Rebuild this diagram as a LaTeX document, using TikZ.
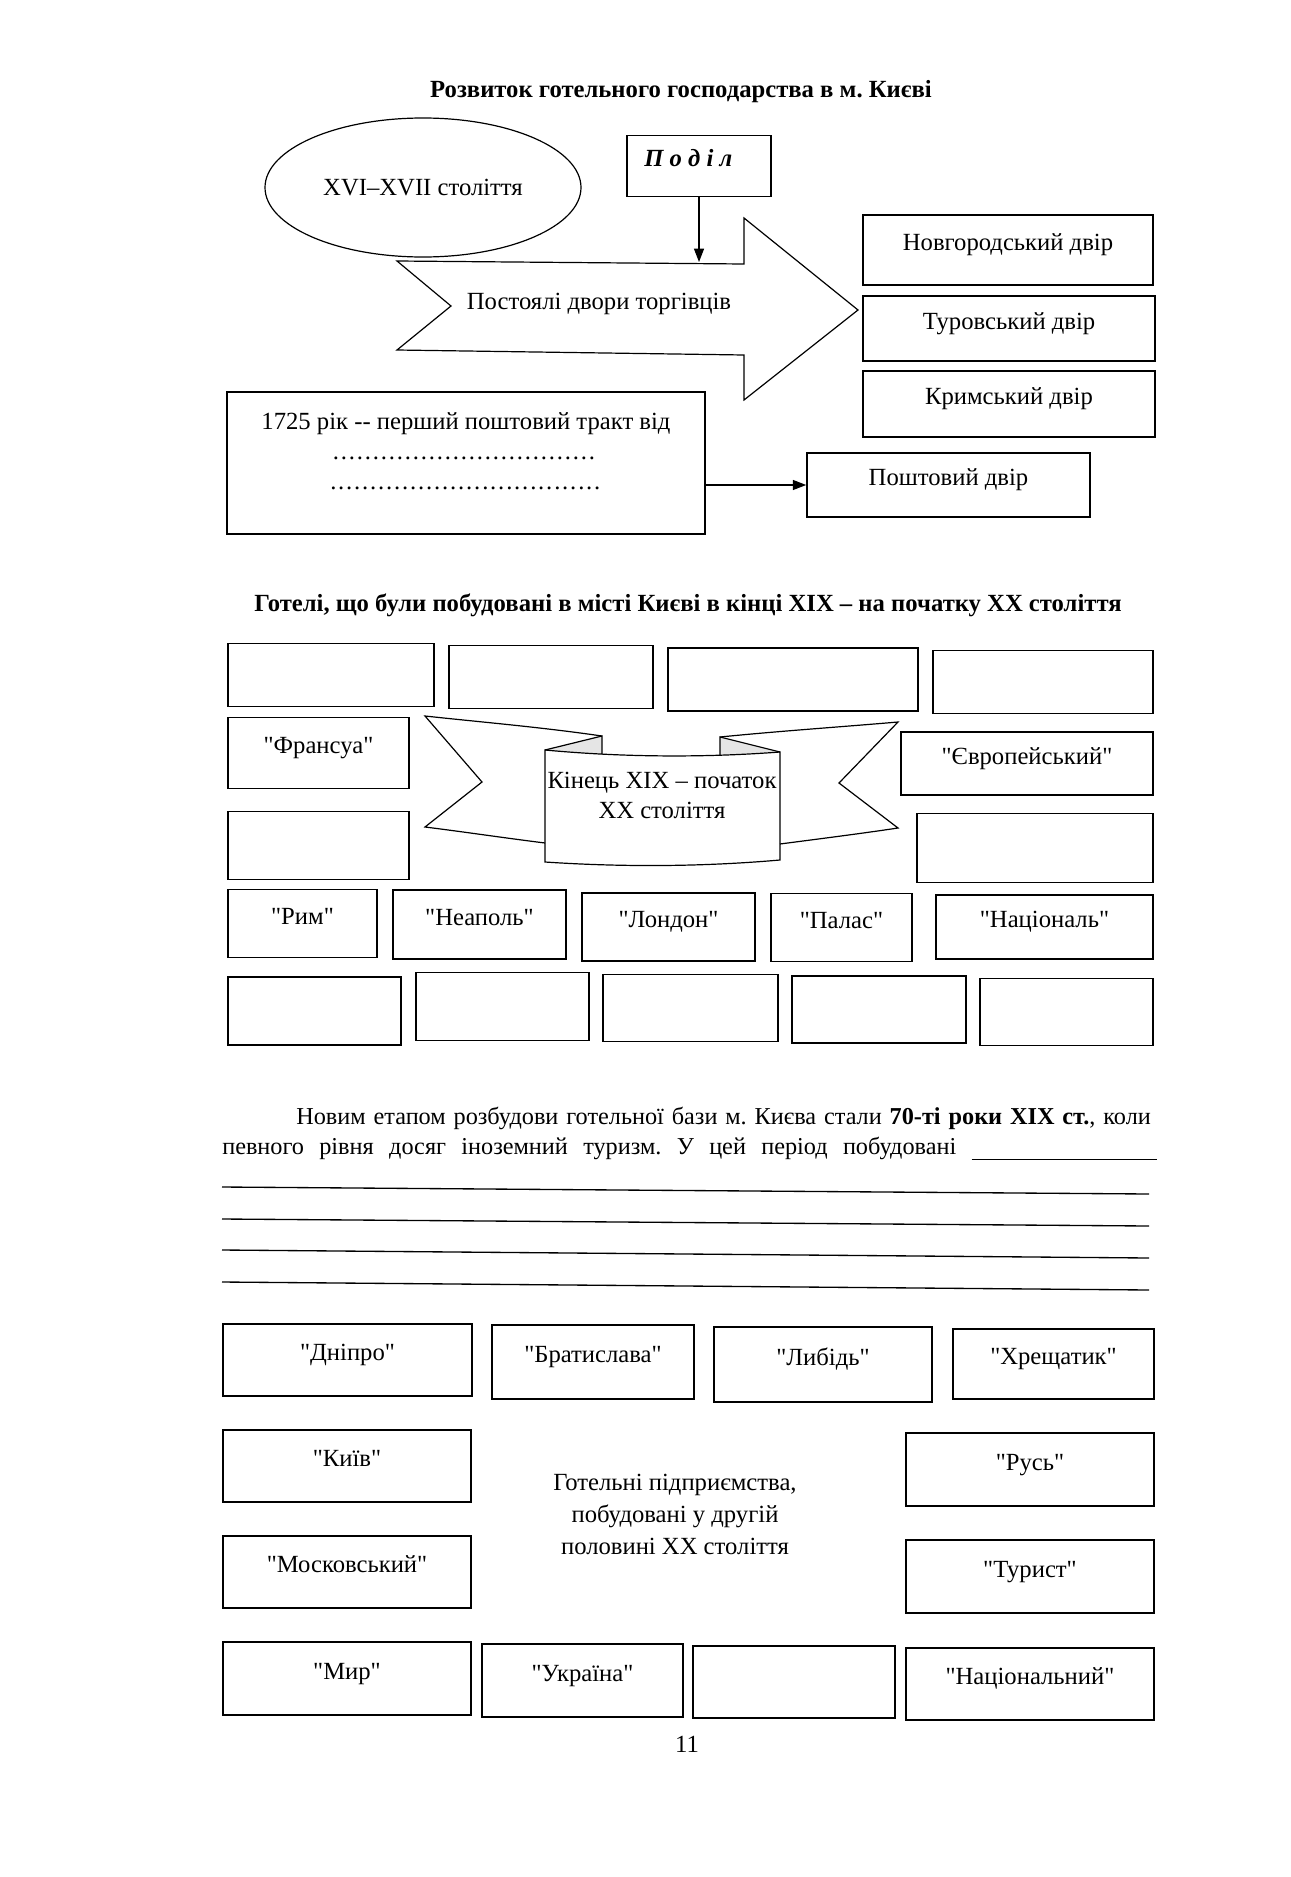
\documentclass[tikz,border=0pt]{standalone}
\usepackage{fontspec}
\setmainfont{Liberation Serif}
\newfontfamily\qfont{Liberation Serif}
\usetikzlibrary{shapes.geometric,arrows.meta}
\newcommand{\txtsize}{\fontsize{18.5pt}{22.5pt}\selectfont}
\newcommand{\dotline}[1]{\makebox[#1]{\leaders\hbox to 6pt{\hss.\hss}\hfill}}
\newcommand{\q}[1]{{\qfont"}#1{\qfont"}}
\frenchspacing

\begin{document}
\begin{tikzpicture}[x=0.75pt,y=0.75pt,yscale=-1,xscale=1,
	every node/.style={font=\txtsize, inner sep=0pt},
	box/.style={draw, line width=1.2pt, text height=13pt, text depth=12pt},
	line/.style={line width=0.9pt},
	tip/.style={-{Triangle[length=10pt,width=7.5pt]}, line width=0.9pt},
	blank/.style={line width=1pt}]
	\useasboundingbox (0,0) rectangle (1291,1877); %page of 1291 x 1877
	
	% Text Node
	\node[font=\txtsize\bfseries] (title) at (681,92) {Розвиток готельного господарства в м. Києві};
	%Shape: Ellipse
	\node[draw, ellipse, line width=0.9pt, minimum width=237pt, minimum height=104.25pt] (era) at (423,187.5) {XVI–XVII століття};
	%Shape: Rectangle
	\node[box, minimum width=108pt, minimum height=45.75pt, font=\txtsize\bfseries\itshape] (podil) at (699,166) {П о д і л\hspace*{16pt}};
	%Shape: Right Arrow
	\draw[line] (397,261) -- (744,264) -- (744,218) -- (858,310) -- (744,400) -- (744,355) -- (397,350) -- (451,306) -- cycle ;
	\coordinate (shafttop) at (699,262);
	% Text Node
	\node (trade) at (599,304) {Постоялі двори торгівців};
	%Straight Lines
	\draw[tip] (podil.south) -- (shafttop);
	%Shape: Rectangle
	\node[box, minimum width=217.5pt, minimum height=52.5pt] (novg) at (1008,250) {Новгородський двір};
	\node[box, minimum width=219pt, minimum height=48.75pt] (turov) at (1009,328.5) {Туровський двір};
	\node[box, minimum width=219pt, minimum height=49.5pt] (krym) at (1009,404) {Кримський двір};
	%Shape: Rectangle
	\node[draw, line width=1.2pt, minimum width=358.5pt, minimum height=106.5pt, align=center] (trakt) at (466,463) {1725 рік -{}- перший поштовий тракт від\\ \dotline{201pt}\\ \dotline{205pt}\rule[-18pt]{0pt}{18pt}};
	\node[box, minimum width=212.25pt, minimum height=48pt] (post) at (948.5,485) {Поштовий двір};
	%Straight Lines
	\draw[tip] (trakt.east |- post) -- (post.west);
	
	% Text Node
	\node[font=\txtsize\bfseries] (title2) at (688,605) {Готелі, що були побудовані в місті Києві в кінці XIX – на початку XX століття};
	%Shape: Rectangle
	\node[box, minimum width=154.5pt, minimum height=47.5pt] (top1) at (331,675) {};
	\node[box, minimum width=153pt, minimum height=47pt] (top2) at (551,677) {};
	\node[box, minimum width=187.5pt, minimum height=47pt] (top3) at (793,679.5) {};
	\node[box, minimum width=165pt, minimum height=47pt] (top4) at (1043,682) {};
	\node[box, minimum width=135.75pt, minimum height=53.25pt] (fransua) at (318.5,753) {\q{Франсуа}};
	\node[box, minimum width=189pt, minimum height=47.5pt] (evrop) at (1027,763.5) {\q{Європейський}};
	\node[box, minimum width=135.75pt, minimum height=50.75pt] (midl) at (318.5,845.5) {};
	\node[box, minimum width=177pt, minimum height=52pt] (midr) at (1035,848) {};
	\node[box, minimum width=111.75pt, minimum height=51pt] (rym) at (302.5,923.5) {\q{Рим}};
	\node[box, minimum width=129.75pt, minimum height=52pt] (neapol) at (479.5,924.5) {\q{Неаполь}};
	\node[box, minimum width=129.75pt, minimum height=51.25pt] (london) at (668.5,927) {\q{Лондон}};
	\node[box, minimum width=105.75pt, minimum height=51.25pt] (palas) at (841.5,927.5) {\q{Палас}};
	\node[box, minimum width=162.75pt, minimum height=48pt] (nacional) at (1044.5,927) {\q{Національ}};
	\node[box, minimum width=129.75pt, minimum height=51.25pt] (low1) at (314.5,1011) {};
	\node[box, minimum width=129.75pt, minimum height=51pt] (low2) at (502.5,1006.5) {};
	\node[box, minimum width=131.25pt, minimum height=50.5pt] (low3) at (690.5,1008) {};
	\node[box, minimum width=130.5pt, minimum height=50.5pt] (low4) at (879,1009.5) {};
	\node[box, minimum width=129.75pt, minimum height=50.5pt] (low5) at (1066.5,1012) {};
	%Shape: Scroll
	\draw[line] (602,736) .. controls (540,727) and (480,722) .. (425,716) -- (482,782) -- (425,827) .. controls (465,832) and (505,838) .. (545,843) ;
	\draw[line] (720,737) .. controls (780,731) and (840,727) .. (898,722) -- (839,783) -- (898,828) .. controls (858,834) and (818,839) .. (780,844) ;
	\filldraw[line, fill=gray!20] (545,750) -- (602,736) -- (602,754) ;
	\filldraw[line, fill=gray!20] (780,752) -- (720,737) -- (720,755) ;
	\draw[line] (545,750) .. controls (620,757) and (700,758) .. (780,752) -- (780,860) .. controls (700,867) and (620,867) .. (545,862) -- cycle ;
	% Text Node
	\node[align=center] (banner) at (662,795) {Кінець XIX – початок\\XX століття};
	
	% Text Node
	\node[anchor=north west, text width=701pt, font=\fontsize{18.2pt}{22.5pt}\selectfont] (para) at (222,1107) {\spaceskip=0.25em plus 0.6em minus 0.08em\relax
		\hspace*{55.5pt}Новим етапом розбудови готельної бази м. Києва стали \textbf{70-ті роки XIX ст.}, коли\linebreak
		\makebox[701pt][s]{певного рівня досяг іноземний туризм. У цей період побудовані \rule[-4pt]{139pt}{0.8pt}}};
	%Straight Lines
	\draw[blank] (222,1187) -- (1149,1194) ;
	\draw[blank] (222,1219) -- (1149,1226) ;
	\draw[blank] (222,1250) -- (1149,1258) ;
	\draw[blank] (222,1282) -- (1149,1290) ;
	
	%Shape: Rectangle
	\node[box, minimum width=186.75pt, minimum height=54pt] (dnipro) at (347.5,1360) {\q{Дніпро}};
	\node[box, minimum width=151.5pt, minimum height=55.5pt] (bratyslava) at (593,1362) {\q{Братислава}};
	\node[box, minimum width=163.5pt, minimum height=56.25pt] (lybid) at (823,1364.5) {\q{Либідь}};
	\node[box, minimum width=150.75pt, minimum height=52.5pt] (khreshchatyk) at (1053.5,1364) {\q{Хрещатик}};
	\node[box, minimum width=186pt, minimum height=54pt] (kyiv) at (347,1466) {\q{Київ}};
	\node[box, minimum width=186pt, minimum height=54.75pt] (rus) at (1030,1469.5) {\q{Русь}};
	\node[box, minimum width=186pt, minimum height=54pt] (moskov) at (347,1572) {\q{Московський}};
	\node[box, minimum width=186pt, minimum height=54.75pt] (turyst) at (1030,1576.5) {\q{Турист}};
	\node[box, minimum width=186pt, minimum height=54.75pt] (myr) at (347,1678.5) {\q{Мир}};
	\node[box, minimum width=150.75pt, minimum height=54.75pt] (ukraina) at (582.5,1680.5) {\q{Україна}};
	\node[box, minimum width=151.5pt, minimum height=54pt] (empty) at (794,1682) {};
	\node[box, minimum width=186pt, minimum height=54pt] (nacionalnyi) at (1030,1684) {\q{Національний}};
	% Text Node
	\node[align=center, font=\fontsize{18.5pt}{24pt}\selectfont] (second) at (675,1514.5) {Готельні підприємства,\\побудовані у другій\\половині XX століття};
	% Text Node
	\node (page) at (687,1744) {11};
	
\end{tikzpicture}
\end{document}
